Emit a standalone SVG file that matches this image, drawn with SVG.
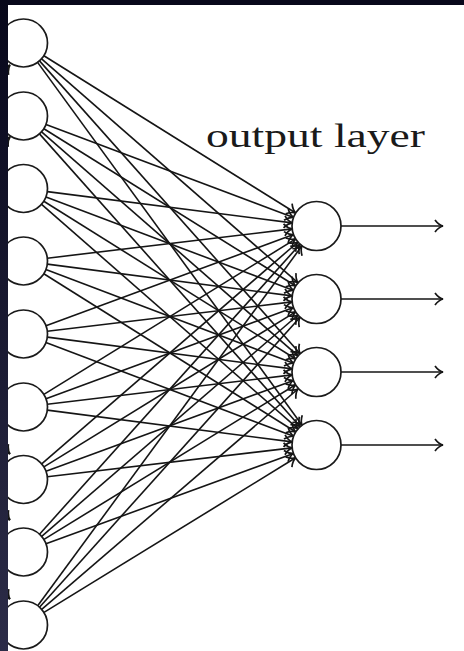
<svg xmlns="http://www.w3.org/2000/svg" width="464" height="651" viewBox="0 0 464 651">
<style>
.n{fill:#fff;stroke:#1a1a1a;stroke-width:1.7}
.c line{stroke:#151515;stroke-width:1.6;marker-end:url(#ah)}
.lbl{font-family:"Liberation Serif","DejaVu Serif",serif;font-size:34px;fill:#1a1a1a}
</style>
<defs>
<marker id="ah" markerUnits="userSpaceOnUse" markerWidth="20" markerHeight="20" refX="0" refY="0" orient="auto" overflow="visible">
<path d="M -8 -6 C -5 -2 -2 -0.5 0 0 C -2 0.5 -5 2 -8 6" fill="none" stroke="#151515" stroke-width="1.7"/>
</marker>
<linearGradient id="bd" x1="0" y1="0" x2="0" y2="1">
<stop offset="0" stop-color="#07071a"/>
<stop offset="1" stop-color="#2c2c48"/>
</linearGradient>
</defs>
<rect x="0" y="0" width="464" height="651" fill="#fff"/>
<g id="connectors" class="c">
<line x1="43.9" y1="55.7" x2="295.7" y2="213.0"/>
<line x1="41.6" y1="58.8" x2="298.1" y2="282.9"/>
<line x1="39.5" y1="60.9" x2="300.2" y2="353.7"/>
<line x1="37.6" y1="62.4" x2="302.1" y2="425.2"/>
<line x1="46.0" y1="124.4" x2="293.6" y2="217.4"/>
<line x1="43.9" y1="128.7" x2="295.7" y2="286.0"/>
<line x1="41.6" y1="131.8" x2="298.1" y2="355.9"/>
<line x1="39.5" y1="133.9" x2="300.2" y2="426.7"/>
<line x1="47.3" y1="191.6" x2="292.2" y2="222.9"/>
<line x1="46.0" y1="197.0" x2="293.6" y2="290.4"/>
<line x1="43.8" y1="201.2" x2="295.7" y2="359.0"/>
<line x1="41.6" y1="204.3" x2="298.1" y2="428.9"/>
<line x1="47.3" y1="258.2" x2="292.2" y2="228.9"/>
<line x1="47.3" y1="264.1" x2="292.2" y2="295.9"/>
<line x1="45.9" y1="269.5" x2="293.6" y2="363.3"/>
<line x1="43.8" y1="273.8" x2="295.8" y2="432.0"/>
<line x1="46.0" y1="325.7" x2="293.5" y2="234.5"/>
<line x1="47.3" y1="331.2" x2="292.2" y2="301.9"/>
<line x1="47.3" y1="337.1" x2="292.2" y2="368.9"/>
<line x1="45.9" y1="342.5" x2="293.6" y2="436.3"/>
<line x1="43.9" y1="394.4" x2="295.7" y2="238.9"/>
<line x1="46.0" y1="398.7" x2="293.5" y2="307.5"/>
<line x1="47.3" y1="404.2" x2="292.2" y2="374.9"/>
<line x1="47.3" y1="410.1" x2="292.2" y2="441.9"/>
<line x1="41.7" y1="463.8" x2="298.0" y2="242.0"/>
<line x1="43.9" y1="466.9" x2="295.6" y2="311.9"/>
<line x1="46.0" y1="471.2" x2="293.5" y2="380.4"/>
<line x1="47.3" y1="476.7" x2="292.2" y2="447.9"/>
<line x1="39.5" y1="534.2" x2="300.1" y2="244.2"/>
<line x1="41.7" y1="536.3" x2="298.0" y2="315.0"/>
<line x1="44.0" y1="539.4" x2="295.6" y2="384.8"/>
<line x1="46.0" y1="543.8" x2="293.5" y2="453.4"/>
<line x1="37.7" y1="605.7" x2="302.0" y2="245.8"/>
<line x1="39.5" y1="607.2" x2="300.1" y2="317.2"/>
<line x1="41.7" y1="609.3" x2="298.0" y2="389.0"/>
<line x1="44.0" y1="612.4" x2="295.6" y2="457.8"/>
<line x1="341" y1="226" x2="443" y2="226"/>
<line x1="341" y1="299" x2="443" y2="299"/>
<line x1="341" y1="372" x2="443" y2="372"/>
<line x1="341" y1="445" x2="443" y2="445"/>
<line x1="-20" y1="95" x2="10" y2="65"/>
<line x1="-20" y1="165" x2="10" y2="137"/>
<line x1="-20" y1="425" x2="10" y2="454"/>
<line x1="-20" y1="490" x2="10" y2="520"/>
<line x1="-20" y1="568" x2="10" y2="599"/>
</g>
<g id="in0"><circle class="n" cx="23.5" cy="43" r="24"/></g>
<g id="in1"><circle class="n" cx="23.5" cy="116" r="24"/></g>
<g id="in2"><circle class="n" cx="23.5" cy="188.5" r="24"/></g>
<g id="in3"><circle class="n" cx="23.5" cy="261" r="24"/></g>
<g id="in4"><circle class="n" cx="23.5" cy="334" r="24"/></g>
<g id="in5"><circle class="n" cx="23.5" cy="407" r="24"/></g>
<g id="in6"><circle class="n" cx="23.5" cy="479.5" r="24"/></g>
<g id="in7"><circle class="n" cx="23.5" cy="552" r="24"/></g>
<g id="in8"><circle class="n" cx="23.5" cy="625" r="24"/></g>
<g id="out0"><circle class="n" cx="316.5" cy="226" r="24.5"/></g>
<g id="out1"><circle class="n" cx="316.5" cy="299" r="24.5"/></g>
<g id="out2"><circle class="n" cx="316.5" cy="372" r="24.5"/></g>
<g id="out3"><circle class="n" cx="316.5" cy="445" r="24.5"/></g>
<g id="label"><text class="lbl" x="206" y="147" textLength="219" lengthAdjust="spacingAndGlyphs">output layer</text></g>
<g id="frame">
<rect x="0" y="0" width="464" height="5" fill="#08081b"/>
<rect x="0" y="0" width="8" height="651" fill="url(#bd)"/>
</g>
</svg>
